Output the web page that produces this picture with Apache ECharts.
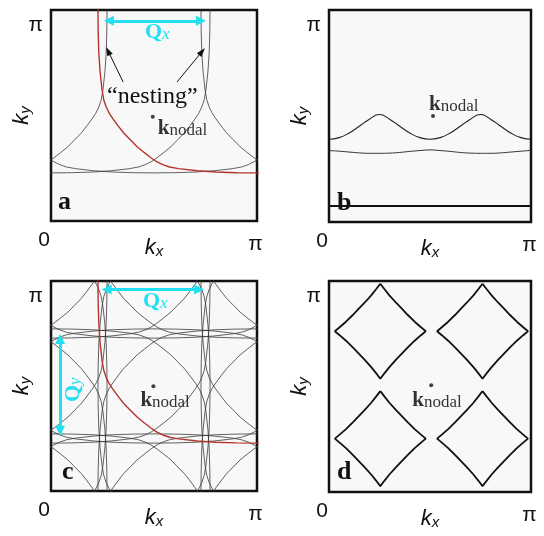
<!DOCTYPE html>
<html>
<head>
<meta charset="utf-8">
<script src="https://cdn.jsdelivr.net/npm/echarts@6/dist/echarts.min.js"></script>
<style>
  html, body { margin: 0; background: #fff; }
  #chart { width: 544px; height: 536px; }
</style>
</head>
<body>
<div id="chart"></div>
<script>
// all k values in units of pi
// quarter of the Fermi surface around (pi, pi) (red curve)
const fsX = [0.228, 0.229, 0.232, 0.238, 0.248, 0.256, 0.268, 0.283, 0.300, 0.325, 0.352, 0.385,
  0.418, 0.452, 0.485, 0.510, 0.540, 0.575, 0.620, 0.710, 0.800, 0.900, 1.000];
const fsY = [1.000, 0.900, 0.800, 0.710, 0.620, 0.575, 0.540, 0.510, 0.485, 0.452, 0.418, 0.385,
  0.352, 0.325, 0.300, 0.283, 0.268, 0.256, 0.248, 0.238, 0.232, 0.229, 0.228];

// centres of the shifted copies (Q = pi/2)
const aCentersX = [-0.5, 0, 0.5, 1.5];
const aCenterY = 1;
const cCenters = [-0.5, 0, 0.5, 1, 1.5];

// panel b contours
const bX = [0, 0.05, 0.1, 0.15, 0.2, 0.25, 0.3, 0.35, 0.4, 0.45, 0.5,
  0.55, 0.6, 0.65, 0.7, 0.75, 0.8, 0.85, 0.9, 0.95, 1];
const bWave = [0.390, 0.398, 0.420, 0.452, 0.485, 0.507, 0.485, 0.452, 0.420, 0.398, 0.390,
  0.398, 0.420, 0.452, 0.485, 0.507, 0.485, 0.452, 0.420, 0.398, 0.390];
const bFlat = [0.337, 0.334, 0.330, 0.326, 0.324, 0.324, 0.325, 0.328, 0.333, 0.337, 0.340,
  0.337, 0.333, 0.328, 0.325, 0.324, 0.324, 0.326, 0.330, 0.334, 0.338];
const bBaseX = [0, 1];
const bBaseY = [0.076, 0.076];

// panel d: one side of a pocket (top vertex -> right vertex), and pocket centres
const dSideX = [0, 0.020, 0.045, 0.078, 0.1065, 0.135, 0.170, 0.200, 0.225];
const dSideY = [0.225, 0.200, 0.170, 0.135, 0.1065, 0.078, 0.045, 0.020, 0];
const dCentersX = [0.254, 0.760];
const dCentersY = [0.253, 0.762];

// k_nodal point in each panel
const nodalX = [0.494, 0.515, 0.497, 0.506];
const nodalY = [0.494, 0.500, 0.499, 0.506];

const ink = '#111';
const cyan = '#22e0f2';
const red = '#b3342c';
const sans = 'Liberation Sans';
const serif = 'Liberation Serif';

function buildLoop(cx, cy) {
  const q = fsX.map((x, i) => [x - 1, fsY[i] - 1]);
  const r = q.slice().reverse();
  const pts = [];
  q.forEach(([dx, dy]) => pts.push([cx + dx, cy + dy]));
  r.forEach(([dx, dy]) => pts.push([cx - dx, cy + dy]));
  q.forEach(([dx, dy]) => pts.push([cx - dx, cy - dy]));
  r.forEach(([dx, dy]) => pts.push([cx + dx, cy - dy]));
  return pts;
}

function buildPocket(cx, cy) {
  const s = dSideX.map((x, i) => [x, dSideY[i]]);
  const r = s.slice().reverse();
  const pts = [];
  s.forEach(([x, y]) => pts.push([cx + x, cy + y]));
  r.forEach(([x, y]) => pts.push([cx + x, cy - y]));
  s.forEach(([x, y]) => pts.push([cx - x, cy - y]));
  r.forEach(([x, y]) => pts.push([cx - x, cy + y]));
  return pts;
}

function curve(grid, data, color, width, z, smooth) {
  return {
    type: 'line', xAxisIndex: grid, yAxisIndex: grid, data: data,
    showSymbol: false, symbol: 'none', clip: true, silent: true, smooth: !!smooth,
    lineStyle: { color: color, width: width }, z: z || 2
  };
}

const grids = [
  { left: 51, top: 10, width: 206, height: 211 },
  { left: 329, top: 10, width: 202, height: 212 },
  { left: 51, top: 281, width: 206, height: 210 },
  { left: 329, top: 281, width: 202, height: 211 }
].map(g => Object.assign(g, {
  show: true, borderColor: ink, borderWidth: 2.5, backgroundColor: '#f8f8f8',
  containLabel: false, outerBoundsMode: 'none'
}));

const nameRich = {
  k: { fontFamily: sans, fontStyle: 'italic', fontSize: 22, lineHeight: 22, verticalAlign: 'top', color: ink },
  s: { fontFamily: sans, fontStyle: 'italic', fontSize: 15, lineHeight: 15, padding: [16, 0, 0, 0], verticalAlign: 'bottom', color: ink }
};

const xAxes = grids.map((g, i) => ({
  gridIndex: i, type: 'value', min: 0, max: 1, interval: 1,
  axisLine: { show: false }, axisTick: { show: false }, splitLine: { show: false },
  axisLabel: {
    margin: 9, color: ink, fontSize: 21, fontFamily: sans,
    formatter: v => (v === 0 ? '{z|0}' : '{p|π}'),
    rich: {
      z: { fontSize: 21, fontFamily: sans, color: ink, padding: [0, 14, 0, 0] },
      p: { fontSize: 21, fontFamily: sans, color: ink, padding: [4, 3, 0, 0] }
    }
  },
  name: '{k|k}{s|x}', nameLocation: 'middle', nameGap: 16, nameMoveOverlap: false,
  nameTextStyle: { rich: nameRich }
}));

const yAxes = grids.map((g, i) => ({
  gridIndex: i, type: 'value', min: 0, max: 1, interval: 1,
  axisLine: { show: false }, axisTick: { show: false }, splitLine: { show: false },
  axisLabel: {
    margin: 8, color: ink, fontSize: 21, fontFamily: sans, verticalAlign: 'top',
    formatter: v => (v === 1 ? '{p|π}' : ''),
    rich: { p: { fontSize: 21, fontFamily: sans, color: ink, padding: [5, 0, 0, 0] } }
  },
  name: '{k|k}{s|y}', nameLocation: 'middle', nameGap: 18, nameRotate: 90, nameMoveOverlap: false,
  nameTextStyle: { rich: nameRich }
}));

const series = [];

// panel a
aCentersX.forEach(cx => series.push(curve(0, buildLoop(cx, aCenterY), '#3a3a3a', 0.8)));
series.push(curve(0, buildLoop(1, 1), red, 1.4, 3));

// panel b
series.push(curve(1, bX.map((x, i) => [x, bWave[i]]), '#222', 1.1, 2, true));
series.push(curve(1, bX.map((x, i) => [x, bFlat[i]]), '#333', 1, 2, true));
series.push(curve(1, bBaseX.map((x, i) => [x, bBaseY[i]]), ink, 2));

// panel c
cCenters.forEach(cx => cCenters.forEach(cy => {
  if (cx === 1 && cy === 1) return;
  series.push(curve(2, buildLoop(cx, cy), '#3a3a3a', 0.8));
}));
series.push(curve(2, buildLoop(1, 1), red, 1.4, 3));

// panel d
dCentersX.forEach(cx => dCentersY.forEach(cy => {
  series.push(curve(3, buildPocket(cx, cy), ink, 1.8));
}));

// k_nodal markers (with arrows as mark lines)
const nodalOffsets = [[0, 11.5], [-9, -11], [-18, 14], [-24, 15]];
const cyanArrow = (p0, p1) => [
  { coord: p0, lineStyle: { color: cyan, width: 3, type: 'solid' } },
  { coord: p1, lineStyle: { color: cyan, width: 3, type: 'solid' } }
];
const blackArrow = (p0, p1) => [
  { coord: p0, symbol: 'none', lineStyle: { color: ink, width: 1, type: 'solid' } },
  { coord: p1, symbol: 'triangle', symbolSize: [6, 9], lineStyle: { color: ink, width: 1, type: 'solid' } }
];
const arrows = [
  [cyanArrow([0.281, 0.949], [0.728, 0.949]),
   blackArrow([0.350, 0.659], [0.277, 0.806]),
   blackArrow([0.612, 0.659], [0.733, 0.803])],
  [],
  [cyanArrow([0.270, 0.959], [0.719, 0.959]),
   cyanArrow([0.044, 0.287], [0.044, 0.724])],
  []
];

nodalX.forEach((x, i) => {
  series.push({
    type: 'scatter', xAxisIndex: i, yAxisIndex: i, data: [[x, nodalY[i]]],
    symbolSize: 4, itemStyle: { color: ink }, silent: true, z: 5,
    label: {
      show: true, position: 'right', distance: 3, offset: nodalOffsets[i],
      color: '#000', textBorderWidth: 0,
      formatter: '{k|k}{n|nodal}',
      rich: {
        k: { fontFamily: serif, fontWeight: 'bold', fontSize: 21, lineHeight: 21, verticalAlign: 'top', color: '#000' },
        n: { fontFamily: serif, fontSize: 17, lineHeight: 17, padding: [9, 0, 0, 0], verticalAlign: 'bottom', color: '#000' }
      }
    },
    markLine: {
      silent: true, animation: false, symbol: ['triangle', 'triangle'], symbolSize: 10,
      label: { show: false }, emphasis: { disabled: true },
      data: arrows[i]
    }
  });
});

const qRich = {
  q: { fontFamily: serif, fontWeight: 'bold', fontSize: 22, lineHeight: 22, verticalAlign: 'top', fill: cyan },
  s: { fontFamily: serif, fontStyle: 'italic', fontSize: 17, lineHeight: 17, padding: [10, 0, 0, 0], verticalAlign: 'bottom', fill: cyan }
};
const letterFont = 'bold 26px "Liberation Serif"';

const graphic = [
  { type: 'text', x: 58, y: 189, style: { text: 'a', font: letterFont, fill: ink } },
  { type: 'text', x: 337, y: 190, style: { text: 'b', font: letterFont, fill: ink } },
  { type: 'text', x: 62, y: 459, style: { text: 'c', font: letterFont, fill: ink } },
  { type: 'text', x: 337, y: 459, style: { text: 'd', font: letterFont, fill: ink } },
  { type: 'text', x: 107, y: 85, style: { text: '\u201cnesting\u201d', font: '24px "Liberation Serif"', fill: ink } },
  { type: 'text', x: 145, y: 21, style: { text: '{q|Q}{s|x}', rich: qRich } },
  { type: 'text', x: 143, y: 290, style: { text: '{q|Q}{s|x}', rich: qRich } },
  { type: 'text', x: 62, y: 402, rotation: Math.PI / 2, style: { text: '{q|Q}{s|y}', rich: qRich } }
];

const chart = echarts.init(document.getElementById('chart'));
chart.setOption({
  animation: false,
  textStyle: { fontFamily: sans },
  grid: grids,
  xAxis: xAxes,
  yAxis: yAxes,
  series: series,
  graphic: graphic
});
</script>
</body>
</html>
